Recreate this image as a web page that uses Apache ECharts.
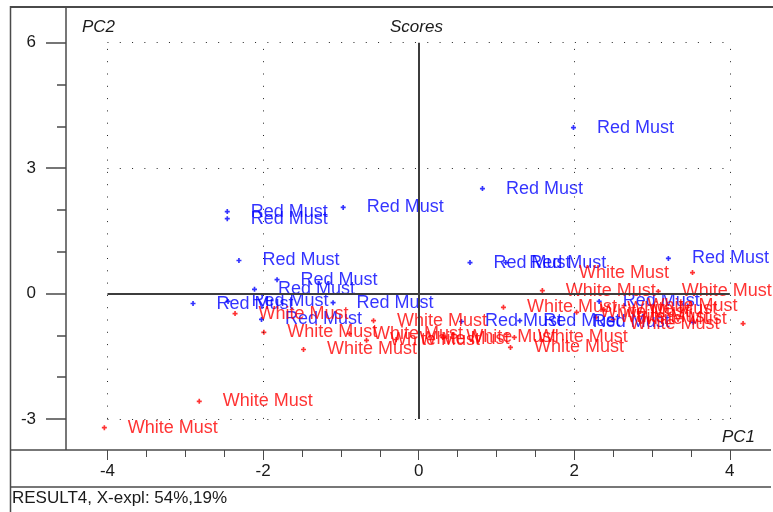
<!DOCTYPE html>
<html>
<head>
<meta charset="utf-8">
<title>Scores</title>
<script src="https://cdn.jsdelivr.net/npm/echarts@6/dist/echarts.min.js"></script>
<style>
  html, body { margin: 0; padding: 0; background: #ffffff; }
  #chart { width: 773px; height: 512px; }
</style>
</head>
<body>
<div id="chart"></div>
<script>
// PCA score plot: PC1 vs PC2 for red and white must samples.

// Score coordinates [PC1, PC2]
const redMust = [
  [1.99, 3.97], [0.82, 2.51], [-0.97, 2.06], [-2.46, 1.96], [-2.46, 1.79],
  [-2.31, 0.79], [-1.82, 0.33], [-2.11, 0.10], [-2.90, -0.24], [-2.45, -0.19],
  [-1.10, -0.22], [-2.02, -0.62], [0.66, 0.74], [1.12, 0.74], [3.21, 0.84],
  [0.55, -0.67], [1.30, -0.65], [2.32, -0.19], [3.53, -0.69]
];
const whiteMust = [
  [-4.04, -3.21], [-2.82, -2.58], [-2.36, -0.48], [-1.99, -0.93], [-1.48, -1.34],
  [-0.58, -0.65], [1.09, -0.33], [1.18, -1.29], [1.59, 0.07], [3.52, 0.50],
  [3.08, 0.05], [4.17, -0.72], [-0.89, -0.96], [-0.67, -1.12], [-0.29, -1.10],
  [0.31, -1.05], [1.23, -1.05], [2.64, -0.29], [2.03, -0.45], [2.38, -0.38],
  [2.28, -0.57], [2.50, -0.62]
];

// Axis ranges and ticks
const X_MIN = -4.533, X_MAX = 4.529;
const Y_MIN = -3.744, Y_MAX = 6.854;
const xMajorTicks = [-4, -2, 0, 2, 4];
const xMinorTicks = [-3.5, -3, -2.5, -1.5, -1, -0.5, 0.5, 1, 1.5, 2.5, 3, 3.5];
const yMajorTicks = [-3, 0, 3, 6];
const yMinorTicks = [-2, -1, 1, 2, 4, 5];

// Reference grid (dotted) and zero axes (solid)
const xGridLines = [-4, -2, 2, 4];
const yGridLines = [-3, 3, 6];
const gridSpanX = [-4, 4];
const gridSpanY = [-3, 6];

const RED_LABEL = 'Red Must';
const WHITE_LABEL = 'White Must';
const FOOTER = 'RESULT4, X-expl: 54%,19%';

const FONT = '"Liberation Sans", Arial, sans-serif';
const BLUE = '#0000ff';
const RED = '#ff0000';
const INK = '#1a1a1a';
const FRAME = '#4a4a4a';
const LABEL_SIZE = 18;
const LABEL_GAP = 21;
const SYMBOL_SIZE = 5;
const PLUS = 'path://M1 0h1v1h1v1h-1v1h-1v-1h-1v-1h1z';

const chart = echarts.init(document.getElementById('chart'), null, { renderer: 'canvas' });

function gridLineData() {
  const d = [];
  xGridLines.forEach(x => d.push([{ coord: [x, gridSpanY[0]] }, { coord: [x, gridSpanY[1]] }]));
  yGridLines.forEach(y => d.push([{ coord: [gridSpanX[0], y] }, { coord: [gridSpanX[1], y] }]));
  return d;
}
function zeroLineData() {
  return [
    [{ coord: [0, gridSpanY[0]] }, { coord: [0, gridSpanY[1]] }],
    [{ coord: [gridSpanX[0], 0] }, { coord: [gridSpanX[1], 0] }]
  ];
}

function hiddenAxisBase(min, max) {
  return {
    type: 'value', min: min, max: max,
    axisLine: { show: false, onZero: false }, splitLine: { show: false }
  };
}

function scatterSeries(name, points, color, text) {
  return {
    name: name,
    type: 'scatter',
    symbol: PLUS,
    symbolSize: SYMBOL_SIZE,
    itemStyle: { color: color },
    data: points.map(p => ({ value: p })),
    label: {
      show: true,
      formatter: text,
      position: 'right',
      distance: LABEL_GAP,
      color: color,
      fontSize: LABEL_SIZE,
      fontFamily: FONT
    },
    labelLayout: { hideOverlap: false },
    emphasis: { disabled: true },
    silent: true,
    z: 3
  };
}

const option = {
  animation: false,
  backgroundColor: '#ffffff',
  grid: { left: 66, right: 2, top: 7, bottom: 62 },
  xAxis: [
    Object.assign(hiddenAxisBase(X_MIN, X_MAX), {
      position: 'bottom',
      axisTick: { show: true, customValues: xMajorTicks, length: 10, lineStyle: { color: FRAME, width: 1 } },
      axisLabel: { customValues: xMajorTicks, margin: 13, fontSize: 17, color: INK, fontFamily: FONT }
    }),
    Object.assign(hiddenAxisBase(X_MIN, X_MAX), {
      position: 'bottom',
      axisTick: { show: true, customValues: xMinorTicks, length: 7, lineStyle: { color: FRAME, width: 1 } },
      axisLabel: { show: false }
    })
  ],
  yAxis: [
    Object.assign(hiddenAxisBase(Y_MIN, Y_MAX), {
      position: 'left',
      axisTick: { show: true, customValues: yMajorTicks, length: 20, lineStyle: { color: FRAME, width: 1.5 } },
      axisLabel: { customValues: yMajorTicks, margin: 30, fontSize: 17, color: INK, fontFamily: FONT }
    }),
    Object.assign(hiddenAxisBase(Y_MIN, Y_MAX), {
      position: 'left',
      axisTick: { show: true, customValues: yMinorTicks, length: 9, lineStyle: { color: FRAME, width: 1.5 } },
      axisLabel: { show: false }
    })
  ],
  series: [
    {
      name: 'grid',
      type: 'scatter',
      data: [],
      silent: true,
      markLine: {
        silent: true,
        symbol: ['none', 'none'],
        label: { show: false },
        emphasis: { disabled: true },
        lineStyle: { color: '#222', width: 1, type: [1, 11.3] },
        data: gridLineData()
      },
      z: 1
    },
    {
      name: 'axes',
      type: 'scatter',
      data: [],
      silent: true,
      markLine: {
        silent: true,
        symbol: ['none', 'none'],
        label: { show: false },
        emphasis: { disabled: true },
        lineStyle: { color: '#3c3c3c', width: 2, type: 'solid' },
        data: zeroLineData()
      },
      z: 1
    },
    scatterSeries('Red Must', redMust, BLUE, RED_LABEL),
    scatterSeries('White Must', whiteMust, RED, WHITE_LABEL)
  ],
  graphic: [
    // frame
    { type: 'line', shape: { x1: 10, y1: 7, x2: 773, y2: 7 }, style: { stroke: FRAME, lineWidth: 2 }, silent: true, z: 10 },
    { type: 'line', shape: { x1: 10.5, y1: 6, x2: 10.5, y2: 512 }, style: { stroke: FRAME, lineWidth: 1.5 }, silent: true, z: 10 },
    { type: 'line', shape: { x1: 66, y1: 7, x2: 66, y2: 450 }, style: { stroke: FRAME, lineWidth: 1.5 }, silent: true, z: 10 },
    { type: 'line', shape: { x1: 10, y1: 450, x2: 771, y2: 450 }, style: { stroke: FRAME, lineWidth: 1.5 }, silent: true, z: 10 },
    { type: 'line', shape: { x1: 10, y1: 487, x2: 771, y2: 487 }, style: { stroke: FRAME, lineWidth: 1.5 }, silent: true, z: 10 },
    // captions
    { type: 'text', x: 82, y: 27, style: { text: 'PC2', font: 'italic 17px ' + FONT, fill: INK, verticalAlign: 'middle' }, silent: true, z: 10 },
    { type: 'text', x: 390, y: 27, style: { text: 'Scores', font: 'italic 17px ' + FONT, fill: INK, verticalAlign: 'middle' }, silent: true, z: 10 },
    { type: 'text', x: 722, y: 437, style: { text: 'PC1', font: 'italic 17px ' + FONT, fill: INK, verticalAlign: 'middle' }, silent: true, z: 10 },
    { type: 'text', x: 12, y: 498, style: { text: FOOTER, font: '17px ' + FONT, fill: INK, verticalAlign: 'middle' }, silent: true, z: 10 }
  ]
};

chart.setOption(option);

// Labels that would run past the right edge go on the left of their point
const measureCtx = document.createElement('canvas').getContext('2d');
measureCtx.font = LABEL_SIZE + 'px ' + FONT;
function placeLabels(points, text) {
  const w = measureCtx.measureText(text).width;
  const limit = chart.getWidth();
  return points.map(p => {
    const px = chart.convertToPixel({ xAxisIndex: 0, yAxisIndex: 0 }, p)[0];
    const side = px + SYMBOL_SIZE / 2 + LABEL_GAP + w > limit ? 'left' : 'right';
    return { value: p, label: { position: side } };
  });
}

chart.setOption({
  series: [
    {}, {},
    { data: placeLabels(redMust, RED_LABEL) },
    { data: placeLabels(whiteMust, WHITE_LABEL) }
  ]
});
</script>
</body>
</html>
